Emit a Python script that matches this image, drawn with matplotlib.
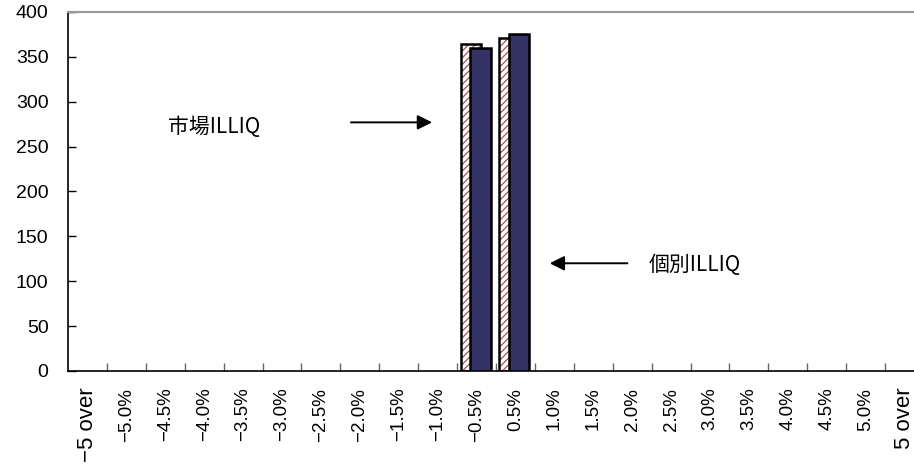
import numpy as np
import matplotlib
matplotlib.use("Agg")
import matplotlib.pyplot as plt

# categories along the x axis
categories = ["\u22125 over", "\u22125.0%", "\u22124.5%", "\u22124.0%", "\u22123.5%",
              "\u22123.0%", "\u22122.5%", "\u22122.0%", "\u22121.5%", "\u22121.0%",
              "\u22120.5%", "0.5%", "1.0%", "1.5%", "2.0%", "2.5%", "3.0%",
              "3.5%", "4.0%", "4.5%", "5.0%", "5 over"]
market_illiq = [0, 0, 0, 0, 0, 0, 0, 0, 0, 0, 364, 371, 0, 0, 0, 0, 0, 0, 0, 0, 0, 0]
indiv_illiq = [0, 0, 0, 0, 0, 0, 0, 0, 0, 0, 360, 376, 0, 0, 0, 0, 0, 0, 0, 0, 0, 0]
yticks = [0, 50, 100, 150, 200, 250, 300, 350, 400]

fig = plt.figure(figsize=(9.14, 4.69), dpi=100)
ax = fig.add_axes([0.0744, 0.209, 0.9365, 0.7655])

x = np.arange(len(categories))
m = np.array(market_illiq, dtype=float)
s = np.array(indiv_illiq, dtype=float)
# zero bars are not drawn at all (no outline on the axis)
m[m == 0] = np.nan
s[s == 0] = np.nan
w = 0.52
# hatched bar: hatch in red, outline drawn separately in black
ax.bar(x - 0.15, m, w, color="white", hatch="/////",
       edgecolor="#b06060", linewidth=0, zorder=2)
ax.bar(x - 0.15, m, w, fill=False, edgecolor="black",
       linewidth=1.8, zorder=2)
ax.bar(x + 0.1, s, w, color="#333366", edgecolor="black",
       linewidth=1.8, zorder=3)

ax.set_xlim(-0.5, len(categories) - 0.5)
ax.set_ylim(0, 400)
ax.set_yticks(yticks)
ax.set_xticks(x)
ax.set_xticklabels(categories, rotation=90)
ax.set_xticks(np.arange(len(categories) - 1) + 0.5, minor=True)

ax.tick_params(axis="y", direction="in", length=6, width=1, pad=14,
               labelsize=14)
ax.tick_params(axis="x", which="major", length=0, pad=12, labelsize=13.5)
ax.tick_params(axis="x", which="minor", direction="in", length=6,
               width=1, color="#666666")
for lab in ax.get_xticklabels() + ax.get_yticklabels():
    lab.set_family("Liberation Sans")
# the "over" end labels are printed larger in the original
for lab in ax.get_xticklabels():
    if "over" in lab.get_text():
        lab.set_fontsize(16)

ax.spines["left"].set_linewidth(1.2)
ax.spines["bottom"].set_linewidth(1.2)
ax.spines["top"].set_color("#999999")
ax.spines["top"].set_linewidth(1.5)
ax.spines["right"].set_visible(False)

cjk = ["Noto Sans CJK JP", "DejaVu Sans"]
ax.text(2.07, 272, "市場ILLIQ", fontsize=15, family=cjk, va="center")
ax.annotate("", xy=(8.93, 277), xytext=(6.7, 277),
            arrowprops=dict(arrowstyle="-|>", color="black", lw=1.4,
                            mutation_scale=22))
ax.text(14.41, 118, "個別ILLIQ", fontsize=15, family=cjk, va="center")
ax.annotate("", xy=(11.81, 120), xytext=(13.95, 120),
            arrowprops=dict(arrowstyle="-|>", color="black", lw=1.4,
                            mutation_scale=22))

fig.savefig("out.png", dpi=100)
